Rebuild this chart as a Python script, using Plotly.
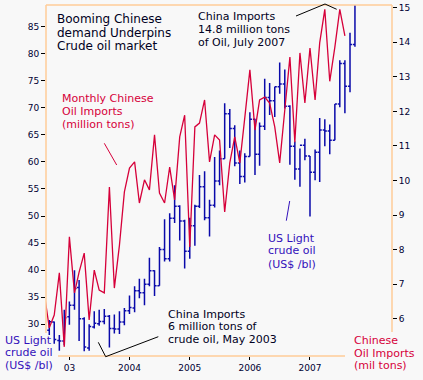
import pandas as pd
import plotly.graph_objects as go

# ---------------- data ----------------
# Monthly Chinese crude oil imports (million tons), Aug 2002 - Aug 2007
import_months = pd.date_range("2002-08-01", periods=61, freq="MS")
china_imports = [6.75, 5.74, 6.11, 7.33, 5.19, 8.37, 6.75, 7.35, 7.90, 5.97,
                 7.41, 6.83, 6.75, 9.81, 6.89, 8.13, 9.67, 10.36, 10.54, 9.35,
                 10.02, 9.73, 11.32, 9.64, 9.35, 10.39, 9.44, 11.26, 11.89, 8.08,
                 11.55, 11.66, 12.33, 10.54, 11.32, 11.17, 9.09, 10.51, 11.26, 10.51,
                 11.81, 13.20, 11.46, 12.33, 12.41, 12.24, 11.55, 10.51, 12.04, 13.57,
                 11.11, 13.69, 12.24, 13.83, 12.33, 13.98, 14.95, 12.87, 13.86, 14.95,
                 14.18]

# US light crude oil, monthly OHLC (US$/bl), Sep 2002 - Oct 2007
oil_months = pd.date_range("2002-09-01", periods=62, freq="MS")
oil_open = [28.9, 30.4, 27.0, 26.9, 31.4, 33.5, 36.8, 31.0, 25.6, 29.5, 30.1, 30.5,
            31.5, 29.2, 29.1, 30.4, 32.5, 33.0, 36.2, 35.8, 37.4, 39.9, 37.1, 43.8,
            42.1, 49.6, 51.8, 49.1, 43.5, 48.2, 51.8, 55.4, 49.7, 52.0, 56.5, 60.6,
            68.9, 66.2, 59.8, 57.3, 61.0, 67.9, 61.4, 66.6, 71.9, 71.3, 73.9, 74.4,
            70.3, 62.9, 58.7, 63.1, 61.1, 58.1, 61.8, 65.9, 65.7, 64.0, 70.7, 78.2,
            74.0, 81.7]
oil_high = [30.8, 30.5, 28.0, 32.7, 34.2, 39.99, 38.2, 31.3, 30.0, 32.4, 32.7, 32.8,
            31.7, 31.8, 32.4, 33.0, 35.3, 37.0, 38.4, 38.4, 42.3, 40.0, 44.3, 49.4,
            50.5, 55.7, 52.0, 49.3, 49.7, 52.1, 57.6, 58.3, 53.0, 60.9, 62.1, 70.85,
            69.8, 66.8, 62.1, 61.6, 69.2, 68.0, 67.3, 75.4, 74.6, 73.9, 78.4, 77.1,
            70.5, 63.8, 62.5, 64.3, 61.1, 62.3, 68.1, 67.9, 66.9, 70.7, 78.8, 78.8,
            83.9, 89.5]
oil_low = [28.0, 26.4, 25.1, 26.1, 29.9, 32.7, 26.9, 25.0, 25.1, 29.2, 29.7, 30.0,
           25.7, 28.3, 28.2, 29.8, 31.9, 32.2, 34.8, 33.5, 37.0, 35.2, 37.1, 41.6,
           41.6, 48.7, 45.5, 40.3, 42.1, 44.5, 51.5, 49.2, 46.2, 51.6, 55.7, 60.6,
           62.6, 59.2, 55.9, 56.2, 61.0, 57.6, 59.3, 65.9, 68.7, 68.3, 72.6, 69.9,
           59.5, 56.7, 55.4, 60.3, 49.9, 56.6, 56.3, 62.9, 61.4, 64.0, 70.1, 69.0,
           72.9, 81.3]
oil_close = [30.45, 27.2, 26.9, 31.2, 33.5, 36.6, 31.0, 25.8, 29.6, 30.2, 30.5, 31.5,
             29.2, 29.1, 30.4, 32.5, 33.1, 36.2, 35.8, 37.4, 39.9, 37.1, 43.8, 42.1,
             49.6, 51.8, 49.1, 43.5, 48.2, 51.8, 55.4, 49.7, 52.0, 56.5, 60.6, 68.9,
             66.2, 59.8, 57.3, 61.0, 67.9, 61.4, 66.6, 71.9, 71.3, 73.9, 74.4, 70.3,
             62.9, 58.7, 63.1, 61.1, 58.1, 61.8, 65.9, 65.7, 64.0, 70.7, 78.2, 74.0,
             81.7, 89.5]

year_ticks = ["2003-01-01", "2004-01-01", "2005-01-01", "2006-01-01", "2007-01-01"]
year_labels = ["03", "2004", "2005", "2006", "2007"]
left_ticks = [30, 35, 40, 45, 50, 55, 60, 65, 70, 75, 80, 85]
right_ticks = [6, 7, 8, 9, 10, 11, 12, 13, 14, 15]

# ---------------- styling ----------------
W, H = 423, 380
L, R, T, B = 46, 392, 5, 356
FONT = "DejaVu Sans"
RED = "#D6003A"
BLUE = "#0A0AAA"
LABEL_BLUE = "#3311BB"
FRAME = "#FFCC99"
BG = "#F8F8F8"
TICKCOL = "#000033"


def px(x):
    return (x - L) / (R - L)


def py(y):
    return (B - y) / (B - T)


fig = go.Figure()

fig.add_trace(go.Ohlc(
    x=oil_months, open=oil_open, high=oil_high, low=oil_low, close=oil_close,
    increasing=dict(line=dict(color=BLUE, width=1.5)),
    decreasing=dict(line=dict(color=BLUE, width=1.5)),
    tickwidth=0.45, showlegend=False, xaxis="x", yaxis="y",
))

fig.add_trace(go.Scatter(
    x=import_months, y=china_imports, mode="lines",
    line=dict(color=RED, width=1.3), showlegend=False, yaxis="y2",
))

shapes = []
frame = dict(type="line", xref="paper", yref="paper",
             line=dict(color=FRAME, width=1.5))
shapes.append(dict(frame, x0=0, x1=1, y0=1, y1=1))
shapes.append(dict(frame, x0=0, x1=0, y0=1, y1=py(333)))
shapes.append(dict(frame, x0=1, x1=1, y0=1, y1=py(332)))
shapes.append(dict(frame, x0=px(58), x1=px(345), y0=0, y1=0))


def seg(points, color):
    for (x0, y0), (x1, y1) in zip(points[:-1], points[1:]):
        shapes.append(dict(type="line", xref="paper", yref="paper",
                           x0=px(x0), y0=py(y0), x1=px(x1), y1=py(y1),
                           line=dict(color=color, width=1)))


seg([(104.3, 143.3), (116.7, 165)], RED)
seg([(286.3, 220.7), (289.7, 201)], LABEL_BLUE)
seg([(296, 16), (325, 4), (336.7, 9.3)], "#000000")
seg([(98.3, 342.3), (105.7, 356.7), (158.3, 336.7)], "#000000")

annotations = []


def text_block(lines, x, y0, step, size, color):
    for i, t in enumerate(lines):
        annotations.append(dict(
            text=t, xref="paper", yref="paper", x=px(x - 2), y=py(y0 + i * step),
            xanchor="left", yanchor="middle", showarrow=False,
            font=dict(family=FONT, size=size, color=color)))


text_block(["Booming Chinese", "demand Underpins", "Crude oil market"],
           57.3, 19.3, 13.3, 12, "#000022")
text_block(["China Imports", "14.8 million tons", "of Oil, July 2007"],
           198.3, 16, 13.1, 11, "#000022")
text_block(["Monthly Chinese", "Oil Imports", "(million tons)"],
           62.3, 98.3, 13, 11, RED)
text_block(["US Light", "crude oil", "(US$ /bl)"],
           267.7, 238, 13, 11, LABEL_BLUE)
text_block(["US Light", "crude oil", "(US$ /bl)"],
           5, 340, 12.9, 11, LABEL_BLUE)
text_block(["China Imports", "6 million tons of", "crude oil, May 2003"],
           167.7, 314, 12.7, 11, "#000022")
text_block(["Chinese", "Oil Imports", "(mil tons)"],
           354, 340.7, 12.5, 11, RED)

tickfont = dict(family=FONT, size=9, color=TICKCOL)
fig.update_layout(
    width=W, height=H,
    margin=dict(l=L, r=W - R, t=T, b=H - B, autoexpand=False),
    paper_bgcolor=BG, plot_bgcolor=BG,
    shapes=shapes, annotations=annotations,
    xaxis=dict(
        type="date", range=["2002-08-12", "2008-05-13"],
        tickvals=year_ticks, ticktext=year_labels,
        ticks="outside", ticklen=3, tickcolor="#000000", tickwidth=1,
        showgrid=False, zeroline=False, showline=False,
        tickfont=tickfont, rangeslider=dict(visible=False), fixedrange=True,
    ),
    yaxis=dict(
        range=[24.13, 89.01], tickvals=left_ticks,
        ticks="outside", ticklen=4, tickcolor="#000000", tickwidth=1,
        showgrid=False, zeroline=False, showline=False, tickfont=tickfont,
    ),
    yaxis2=dict(
        range=[4.925, 15.076], tickvals=right_ticks, overlaying="y", side="right",
        ticks="outside", ticklen=4, tickcolor="#000000", tickwidth=1,
        showgrid=False, zeroline=False, showline=False, tickfont=tickfont,
    ),
)

fig.write_html(
    "out.html",
    config={"displayModeBar": False},
    post_script="document.body.style.margin='0';document.body.style.padding='0';",
)
